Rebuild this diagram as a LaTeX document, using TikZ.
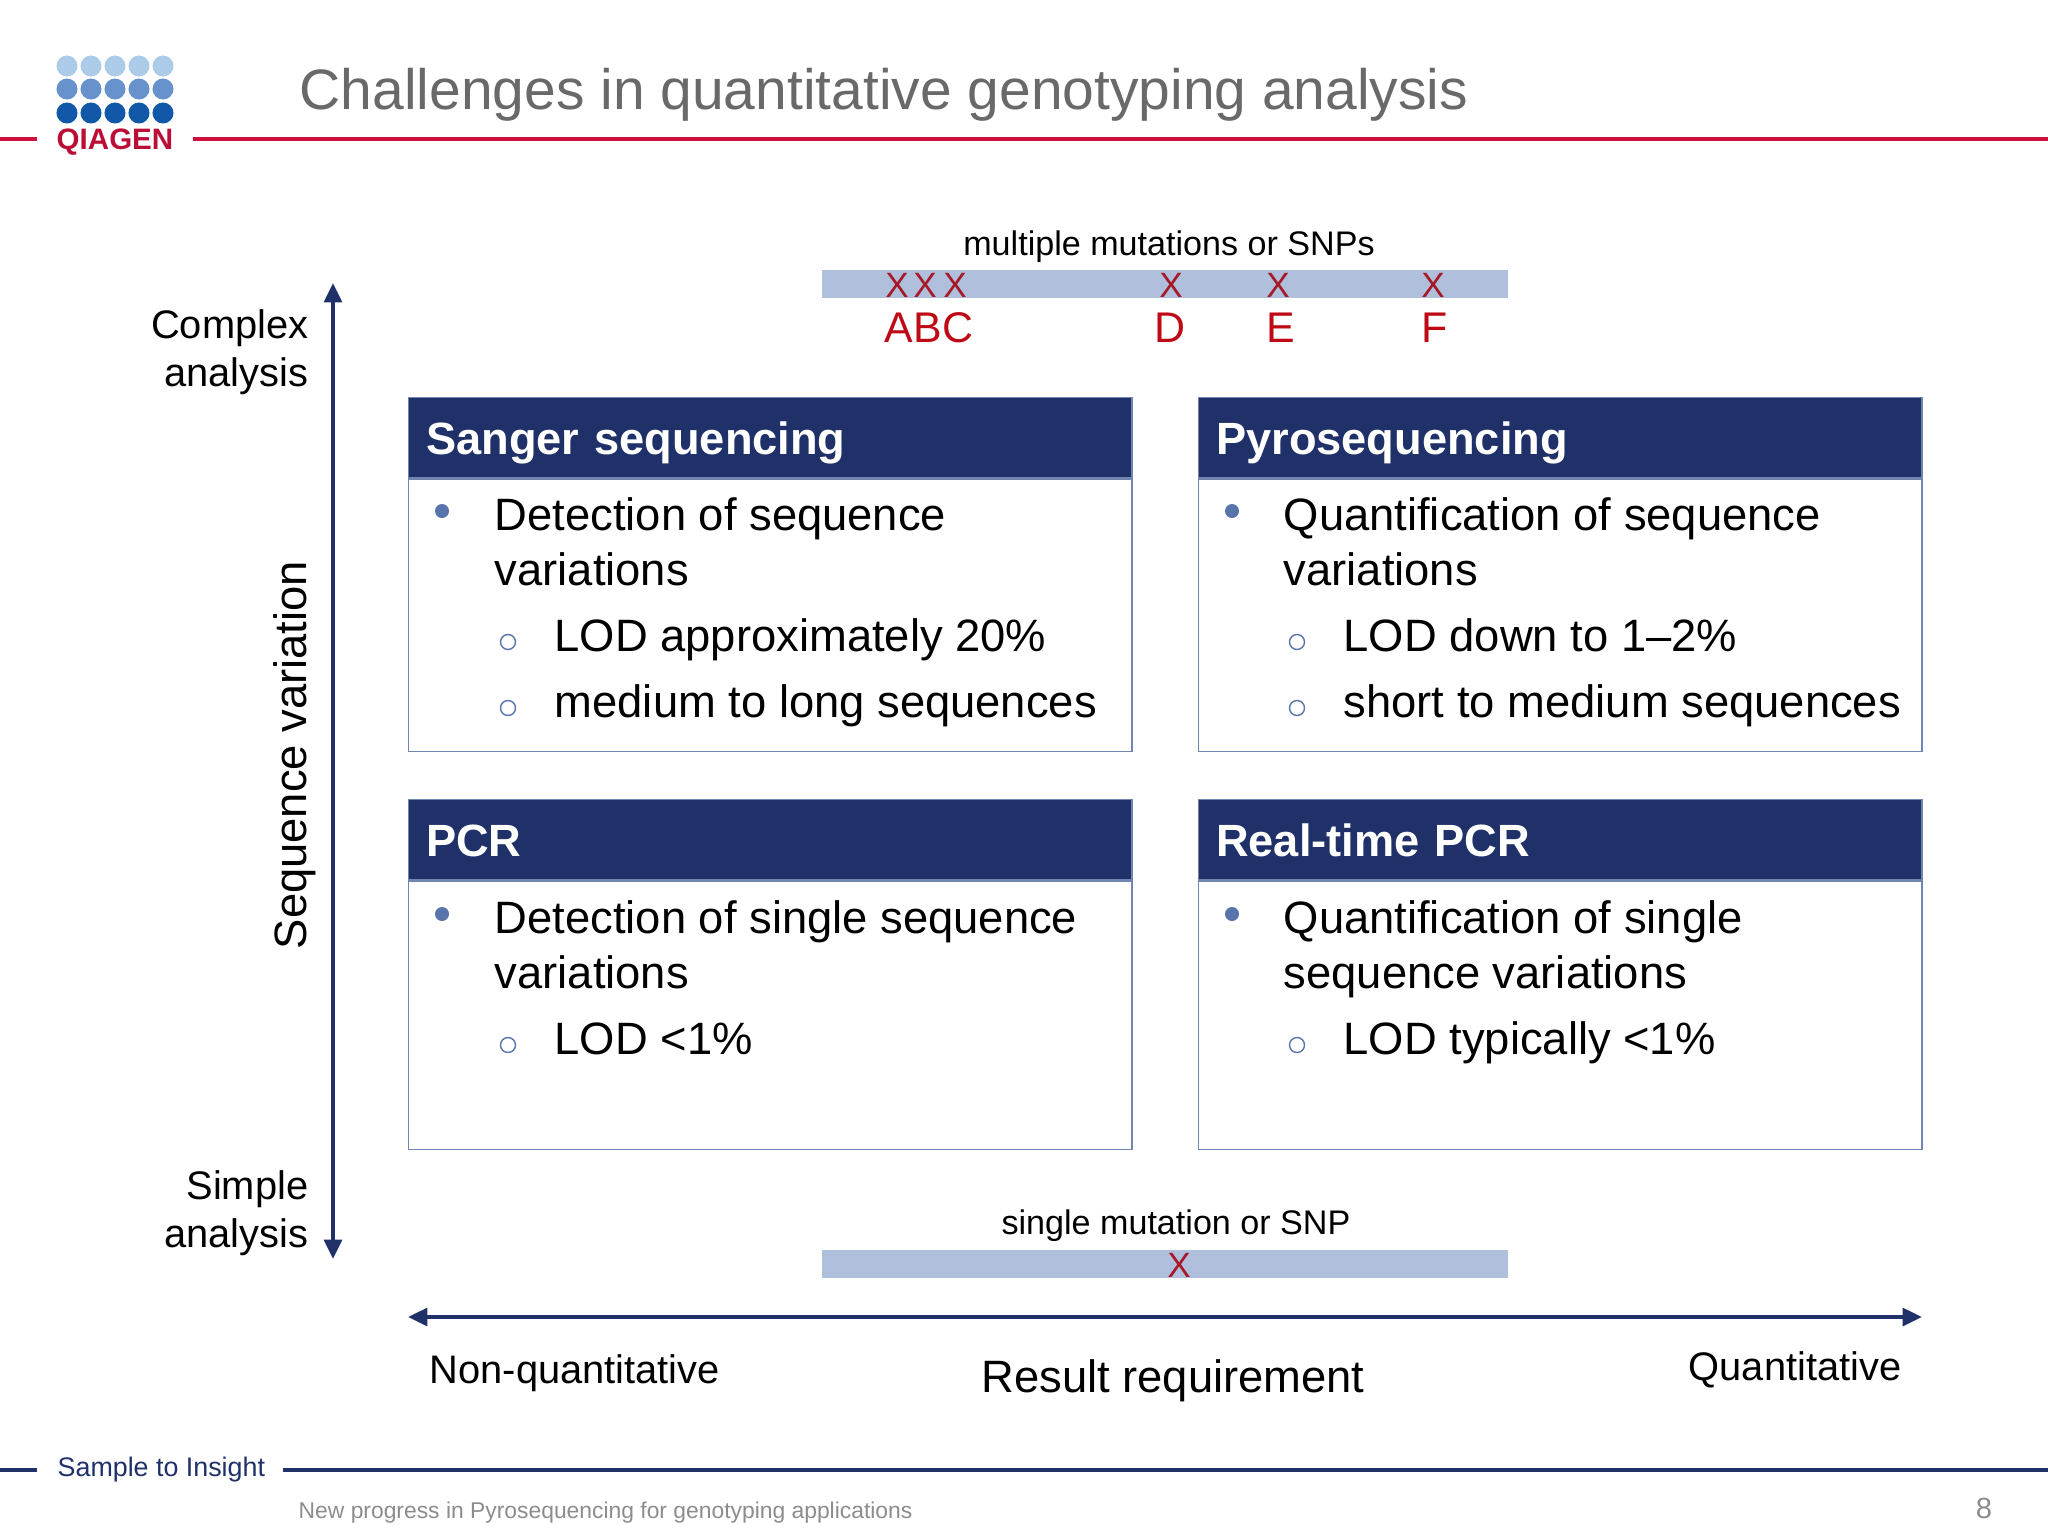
\documentclass[tikz,border=0pt]{standalone}
\usepackage{fontspec}
\setmainfont{Liberation Sans}
\usepackage{xcolor}
\usetikzlibrary{arrows.meta, positioning}
\definecolor{QNavy}{RGB}{31,49,104}
\definecolor{QRed}{RGB}{208,16,60}
\definecolor{QBar}{RGB}{176,192,220}
\definecolor{QEdge}{RGB}{112,134,176}
\definecolor{QBullet}{RGB}{88,116,170}
\definecolor{QMark}{RGB}{165,25,40}
\definecolor{QLetter}{RGB}{190,10,20}
\definecolor{QTitle}{RGB}{105,105,105}
\definecolor{QFoot}{RGB}{140,140,140}
\definecolor{QDotA}{RGB}{172,203,232}
\definecolor{QDotB}{RGB}{104,146,204}
\definecolor{QDotC}{RGB}{18,88,168}

\begin{document}
\begin{tikzpicture}[x=0.01cm, y=-0.01cm, >={Triangle[width=5pt, length=5.5pt]}]
  \tikzstyle{hdr} = [rectangle, draw=QEdge, fill=QNavy, text=white, line width=0.4pt, minimum width=7.23cm, minimum height=0.80cm, anchor=north west, align=left, text width=6.88cm, text height=0.33cm, text depth=0pt, inner sep=0pt, font=\fontsize{12.85pt}{15pt}\selectfont\bfseries]
  \tikzstyle{bodybox} = [rectangle, draw=QEdge, fill=white, line width=0.4pt, minimum width=7.23cm, inner sep=0pt]
  \tikzstyle{txt} = [anchor=base west, inner sep=0pt, font=\fontsize{12.9pt}{15.4pt}\selectfont, align=left]
  \tikzstyle{lab} = [inner sep=0pt, font=\fontsize{11.33pt}{13.6pt}\selectfont]
  \tikzstyle{biglab} = [inner sep=0pt, font=\fontsize{12.9pt}{15pt}\selectfont]
  \tikzstyle{smalllab} = [inner sep=0pt, font=\fontsize{9.7pt}{11pt}\selectfont]
  \tikzstyle{dotb} = [circle, fill=QBullet, inner sep=0pt, minimum size=0.14cm]
  \tikzstyle{ringb} = [circle, draw=QBullet, fill=white, line width=0.4pt, inner sep=0pt, minimum size=0.15cm]
  \tikzstyle{strand} = [rectangle, fill=QBar, inner sep=0pt, minimum width=6.85cm, minimum height=0.28cm]
  \tikzstyle{xmark} = [inner sep=0pt, text=QMark, font=\fontsize{10pt}{11pt}\selectfont]
  \tikzstyle{letter} = [inner sep=0pt, text=QLetter, font=\fontsize{12.2pt}{14pt}\selectfont]
  \tikzstyle{axisline} = [QNavy, line width=1.15pt]

  \useasboundingbox (0,0) rectangle (2048,1536);

  % Title and rules
  \node (title) [anchor=base west, inner sep=0pt, text=QTitle, font=\fontsize{16.2pt}{20pt}\selectfont] at (299,109) {Challenges in quantitative genotyping analysis};
  \coordinate (ra) at (0,139);
  \coordinate (rb) at (37,139);
  \coordinate (rc) at (193,139);
  \coordinate (rd) at (2048,139);
  \draw[QRed, line width=1.15pt] (ra) -- (rb);
  \draw[QRed, line width=1.15pt] (rc) -- (rd);

  % Logo
  \foreach \i/\x in {1/67, 2/91, 3/115, 4/139, 5/163} {
    \node (la\i) [circle, fill=QDotA, inner sep=0pt, minimum size=0.21cm] at (\x,66) {};
    \node (lb\i) [circle, fill=QDotB, inner sep=0pt, minimum size=0.21cm] at (\x,89) {};
    \node (lc\i) [circle, fill=QDotC, inner sep=0pt, minimum size=0.21cm] at (\x,113) {};
  }
  \node (logo) [anchor=base, inner sep=0pt, text=QRed!90!black, font=\fontsize{8.4pt}{10pt}\selectfont\bfseries] at (115,149) {QIAGEN};

  % Top bar
  \node (multi) [smalllab] at (1169,247) {multiple mutations or SNPs};
  \node (bartop) [strand] at (1165,284) {};
  \node (xa) [xmark] at (897,285) {X};
  \node (xb) [xmark] at (925,285) {X};
  \node (xc) [xmark] at (955,285) {X};
  \node (xd) [xmark] at (1171,285) {X};
  \node (xe) [xmark] at (1278,285) {X};
  \node (xf) [xmark] at (1433,285) {X};
  \node (abc) [letter] at (929,328) {ABC};
  \node (d) [letter] at (1170,328) {D};
  \node (e) [letter] at (1281,328) {E};
  \node (f) [letter] at (1435,328) {F};

  % Sanger sequencing
  \node (sanger) [hdr] at (408,397) {Sanger sequencing};
  \node (sangerb) [bodybox, minimum height=2.72cm, below=0pt of sanger] {};
  \node (s0) [dotb] at (442,511) {};
  \node (s1) [txt] at (494,585) {Detection of sequence\\variations};
  \node (s2) [ringb] at (508,642) {};
  \node (s3) [txt] at (554,651) {LOD approximately 20\%};
  \node (s4) [ringb] at (508,708) {};
  \node (s5) [txt] at (554,717) {medium to long sequences};

  % Pyrosequencing
  \node (pyro) [hdr] at (1198,397) {Pyrosequencing};
  \node (pyrob) [bodybox, minimum height=2.72cm, below=0pt of pyro] {};
  \node (p0) [dotb] at (1232,511) {};
  \node (p1) [txt] at (1283,585) {Quantification of sequence\\variations};
  \node (p2) [ringb] at (1297,642) {};
  \node (p3) [txt] at (1343,651) {LOD down to 1–2\%};
  \node (p4) [ringb] at (1297,708) {};
  \node (p5) [txt] at (1343,717) {short to medium sequences};

  % PCR
  \node (pcr) [hdr] at (408,799) {PCR};
  \node (pcrb) [bodybox, minimum height=2.68cm, below=0pt of pcr] {};
  \node (c0) [dotb] at (442,914) {};
  \node (c1) [txt] at (494,988) {Detection of single sequence\\variations};
  \node (c2) [ringb] at (508,1045) {};
  \node (c3) [txt] at (554,1054) {LOD <1\%};

  % Real-time PCR
  \node (rt) [hdr] at (1198,799) {Real-time PCR};
  \node (rtb) [bodybox, minimum height=2.68cm, below=0pt of rt] {};
  \node (r0) [dotb] at (1232,914) {};
  \node (r1) [txt] at (1283,988) {Quantification of single\\sequence variations};
  \node (r2) [ringb] at (1297,1045) {};
  \node (r3) [txt] at (1343,1054) {LOD typically <1\%};

  % Vertical axis
  \coordinate (vtop) at (333,283);
  \coordinate (vbot) at (333,1259);
  \draw[<->, axisline] (vtop) -- (vbot);
  \node (complex) [lab, anchor=east, align=right] at (309,352) {Complex\\analysis};
  \node (simple) [lab, anchor=east, align=right] at (309,1213) {Simple\\analysis};
  \node (seqvar) [biglab, rotate=90] at (295,755) {Sequence variation};

  % Bottom bar
  \node (single) [smalllab] at (1176,1226) {single mutation or SNP};
  \node (barbot) [strand] at (1165,1264) {};
  \node (xs) [xmark] at (1179,1265) {X};

  % Horizontal axis
  \coordinate (hleft) at (408,1317);
  \coordinate (hright) at (1922,1317);
  \draw[<->, axisline] (hleft) -- (hright);
  \node (nonq) [lab, anchor=west] at (429,1373) {Non-quantitative};
  \node (result) [biglab] at (1173,1381) {Result requirement};
  \node (quant) [lab, anchor=east] at (1902,1370) {Quantitative};

  % Footer
  \coordinate (fa) at (0,1470);
  \coordinate (fb) at (37,1470);
  \coordinate (fc) at (283,1470);
  \coordinate (fd) at (2048,1470);
  \draw[QNavy, line width=1.15pt] (fa) -- (fb);
  \draw[QNavy, line width=1.15pt] (fc) -- (fd);
  \node (insight) [anchor=west, inner sep=0pt, text=QNavy, font=\fontsize{7.63pt}{10pt}\selectfont] at (57,1470) {Sample to Insight};
  \node (talk) [anchor=west, inner sep=0pt, text=QFoot, font=\fontsize{6.5pt}{9pt}\selectfont] at (298,1513) {New progress in Pyrosequencing for genotyping applications};
  \node (page) [inner sep=0pt, text=QFoot, font=\fontsize{8.3pt}{10pt}\selectfont] at (1984,1508) {8};
\end{tikzpicture}
\end{document}
